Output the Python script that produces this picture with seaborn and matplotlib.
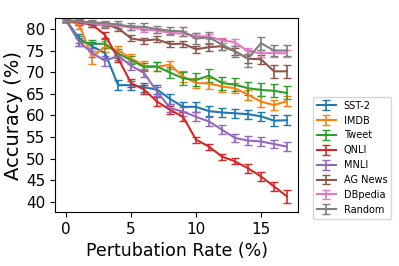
import matplotlib
matplotlib.use("Agg")
import matplotlib.pyplot as plt
import seaborn as sns
import numpy as np

rates = list(range(18))

sst2 = [82, 77.8, 76, 74.4, 67, 67, 66.5, 66, 63.8, 62, 62, 61, 60.7, 60.5, 60.3, 59.8, 58.8, 58.9]
imdb = [82, 81, 73.5, 75.9, 75, 73.2, 71.5, 71.3, 71.7, 69, 67.5, 67.4, 66.7, 66.3, 64.8, 63.2, 62.4, 63.3]
tweet = [82, 77.2, 76.5, 76.6, 74.3, 72.8, 71.2, 71.3, 69.9, 68.6, 68.2, 69.2, 67.5, 67.1, 66.3, 65.9, 65.7, 65.2]
qnli = [82, 81.5, 81, 78.6, 73.2, 67.5, 66, 63.2, 61.3, 59.7, 54.4, 52.8, 50.5, 49.4, 47.8, 45.9, 43.6, 41.3]
mnli = [82, 77, 74.5, 72.6, 73.8, 71.5, 69.8, 65.5, 61.7, 60.9, 59.7, 58.6, 56.7, 54.8, 54.2, 54, 53.4, 52.8]
agnews = [82, 81.5, 81, 81, 80.2, 77.8, 77.3, 77.6, 76.5, 76.6, 75.3, 75.8, 76, 74.8, 73.1, 73, 70.2, 70.2]
dbpedia = [82, 81.7, 81.3, 81, 80.8, 80.3, 79.9, 79.6, 79.1, 78.9, 78.4, 78.2, 77.4, 76.9, 74.8, 74.4, 74.4, 74.4]
rand = [82, 81.8, 81.5, 81.3, 81, 80.5, 80.5, 79.9, 79.6, 79.4, 77.8, 78, 76.4, 74.8, 73.2, 76.7, 75, 75]

sst2_err = [0.3, 1, 1, 1.2, 1.2, 1, 1, 1, 1.2, 1.2, 1.2, 1.2, 1, 1, 1, 1, 1.2, 1.2]
imdb_err = [0.3, 1, 1.5, 1.2, 1, 1, 1, 1, 1, 1.2, 1.2, 1.2, 1.2, 1.2, 1.2, 1.2, 1.2, 1.2]
tweet_err = [0.3, 1.2, 1, 1, 1, 1, 1, 1, 1.2, 1.5, 1.5, 1.5, 1.5, 1.5, 1.5, 1.5, 1.5, 1.5]
qnli_err = [0.3, 0.5, 0.5, 0.7, 0.8, 1, 1, 1, 1, 1, 0.7, 0.7, 0.7, 0.7, 1, 1, 1, 1.5]
mnli_err = [0.3, 1, 1, 1.2, 1, 1, 1, 1, 1, 1, 1, 1, 1, 1, 1, 1, 1, 1]
agnews_err = [0.3, 0.5, 0.5, 0.7, 0.7, 0.7, 0.7, 0.7, 0.7, 0.7, 0.8, 0.8, 0.8, 0.8, 1, 1, 1.5, 1.5]
dbpedia_err = [0.3, 0.5, 0.5, 0.5, 0.5, 0.5, 0.5, 0.5, 0.5, 0.6, 0.6, 0.6, 0.6, 0.8, 0.8, 0.8, 0.8, 0.8]
rand_err = [0.3, 0.5, 0.6, 0.6, 0.8, 0.8, 0.8, 0.8, 0.8, 1, 1.3, 1.3, 1.3, 1.3, 2, 1.5, 1.3, 1.3]

names = ["SST-2", "IMDB", "Tweet", "QNLI", "MNLI", "AG News", "DBpedia", "Random"]
series = [sst2, imdb, tweet, qnli, mnli, agnews, dbpedia, rand]
errors = [sst2_err, imdb_err, tweet_err, qnli_err, mnli_err, agnews_err, dbpedia_err, rand_err]

colors = sns.color_palette("tab10", len(names))

fig = plt.figure(figsize=(3.99, 2.66), dpi=100)
ax = fig.add_axes([0.138, 0.203, 0.609, 0.729])

for name, vals, err, c in zip(names, series, errors, colors):
    ax.errorbar(rates, vals, yerr=err, label=name, color=c, capsize=3, lw=1.5, elinewidth=1.2)

ax.set_xlabel("Pertubation Rate (%)", fontsize=12.5)
ax.set_ylabel("Accuracy (%)", fontsize=14, labelpad=2)
ax.tick_params(labelsize=11)
ax.set_yticks([40, 45, 50, 55, 60, 65, 70, 75, 80])
ax.set_xticks([0, 5, 10, 15])
ax.set_ylim(37.7, 82.5)

ax.legend(loc="center left", bbox_to_anchor=(1.04, 0.28), fontsize=7, handlelength=2,
          labelspacing=0.5, borderpad=0.4)

fig.savefig("out.png", dpi=100)
